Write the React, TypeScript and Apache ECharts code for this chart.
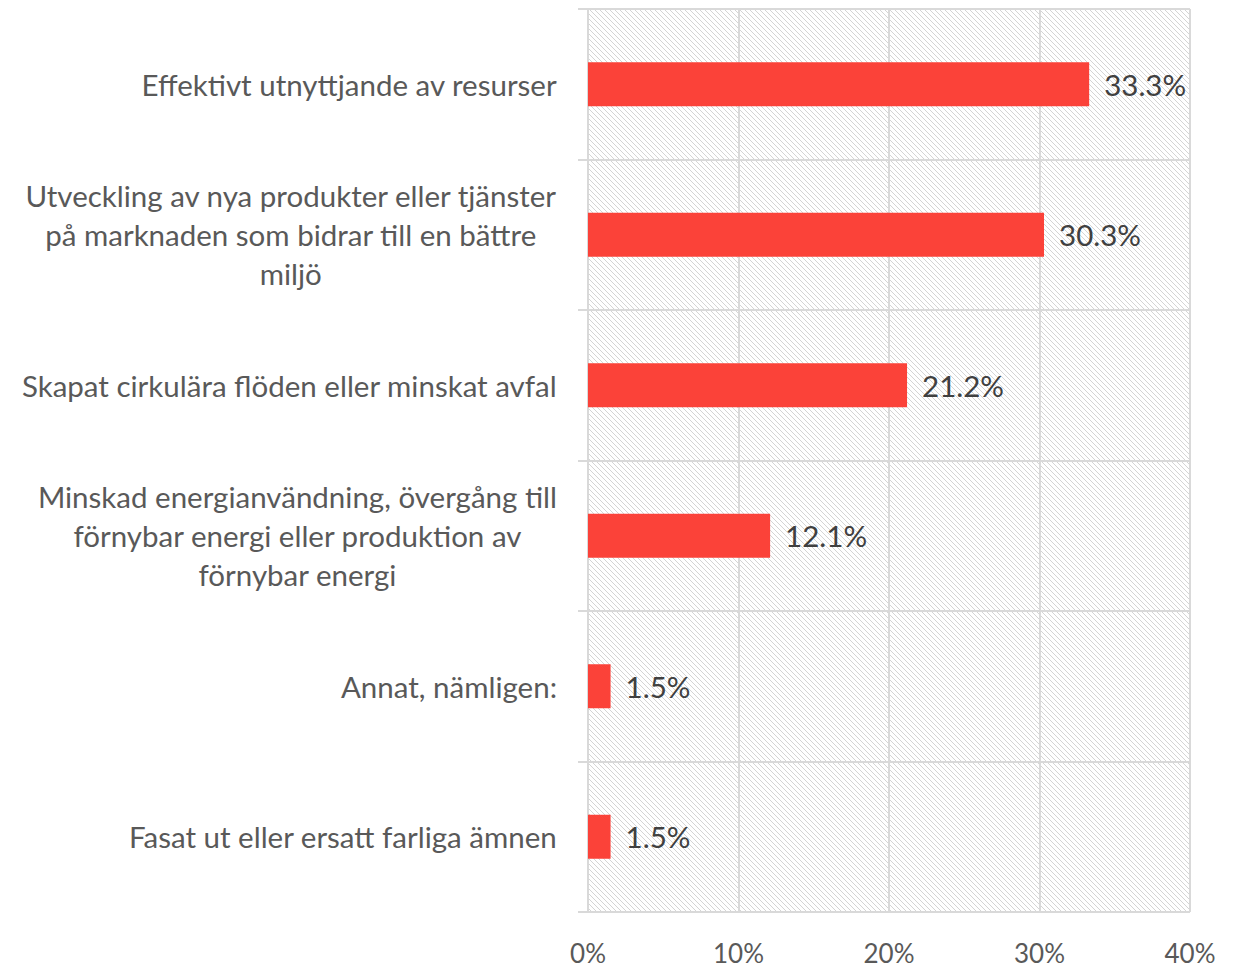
import React, { useEffect, useRef } from "react";
import * as echarts from "echarts";

const categories = [
  "Effektivt utnyttjande av resurser",
  "Utveckling av nya produkter eller tjänster\npå marknaden som bidrar till en bättre\nmiljö",
  "Skapat cirkulära flöden eller minskat avfal",
  "Minskad energianvändning, övergång till\nförnybar energi eller produktion av\nförnybar energi",
  "Annat, nämligen:",
  "Fasat ut eller ersatt farliga ämnen",
];
const values = [33.3, 30.3, 21.2, 12.1, 1.5, 1.5];
const xTicks = [0, 10, 20, 30, 40];

const FONT = "Lato, 'Open Sans', sans-serif";

const hatchSvg =
  "<svg xmlns='http://www.w3.org/2000/svg' width='5' height='5'>" +
  "<path d='M-1,-1 L6,6 M-1,4 L1,6 M4,-1 L6,1' stroke='#d4d4d4' stroke-width='1'/></svg>";
const hatchUrl = "data:image/svg+xml;charset=utf-8," + encodeURIComponent(hatchSvg);

export default function App() {
  const ref = useRef<HTMLDivElement>(null);
  useEffect(() => {
    document.body.style.margin = "0";
    const chart = echarts.init(ref.current!, null, { renderer: "svg" });
    chart.setOption({
      animation: false,
      grid: {
        left: 588,
        right: 46,
        top: 9,
        bottom: 56,
        show: true,
        borderWidth: 0,
        backgroundColor: { image: hatchUrl, repeat: "repeat" },
      },
      xAxis: {
        type: "value",
        min: xTicks[0],
        max: xTicks[xTicks.length - 1],
        interval: 10,
        axisLine: { show: false },
        axisTick: { show: false },
        splitLine: { show: true, lineStyle: { color: "#d9d9d9", width: 2 } },
        axisLabel: {
          formatter: (v: number) => `${v}%`,
          color: "#595959",
          fontSize: 26,
          fontFamily: FONT,
          margin: 28,
        },
      },
      yAxis: {
        type: "category",
        inverse: true,
        data: categories,
        axisLine: { show: true, lineStyle: { color: "#d9d9d9", width: 2 } },
        axisTick: { show: true, length: 10, lineStyle: { color: "#d9d9d9", width: 2 } },
        splitLine: { show: true, lineStyle: { color: "#d9d9d9", width: 2 } },
        axisLabel: {
          margin: 31,
          align: "right",
          formatter: (v: string) =>
            v
              .split("\n")
              .map((l) => `{c|${l}}`)
              .join("\n"),
          rich: {
            c: {
              color: "#595959",
              fontSize: 29.5,
              fontFamily: FONT,
              lineHeight: 39,
              align: "center",
            },
          },
        },
      },
      series: [
        {
          type: "bar",
          data: values,
          barWidth: 44,
          itemStyle: { color: "#FB4239" },
          label: {
            show: true,
            position: "right",
            distance: 15,
            formatter: (p: any) => `${Number(p.value).toFixed(1)}%`,
            color: "#404040",
            fontSize: 29.5,
            fontFamily: FONT,
          },
        },
      ],
    });
    return () => chart.dispose();
  }, []);
  return <div ref={ref} style={{ width: 1236, height: 968 }} />;
}
